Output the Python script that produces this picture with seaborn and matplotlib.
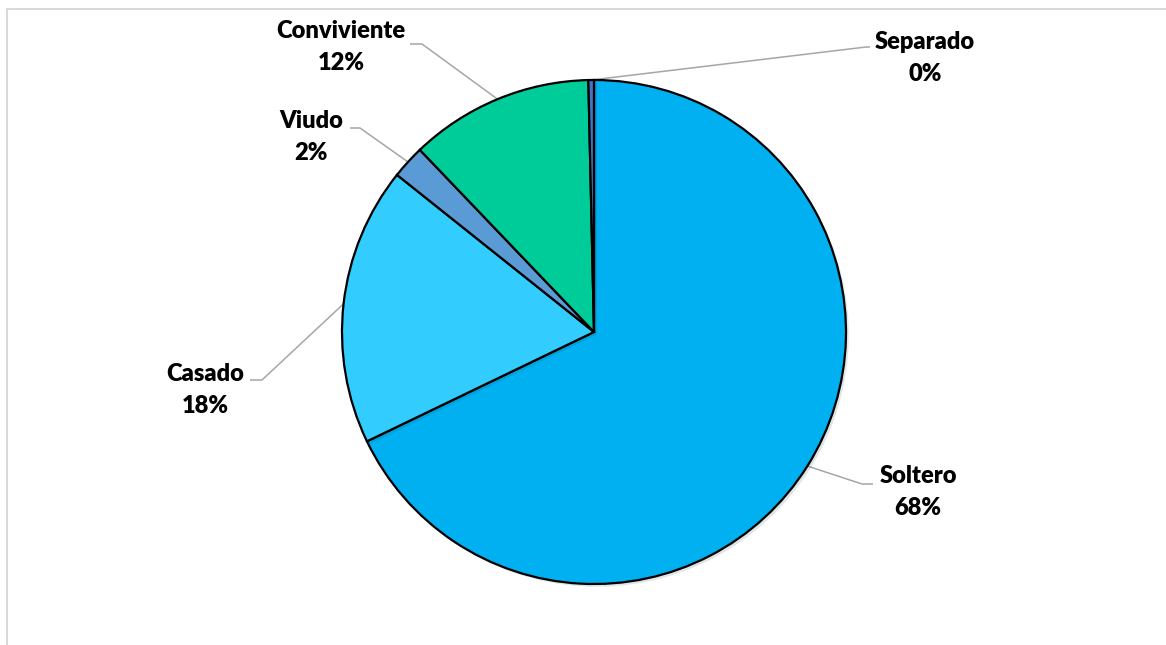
import matplotlib
matplotlib.use("Agg")
import matplotlib.pyplot as plt
from matplotlib.lines import Line2D
import matplotlib.patheffects as pe
import numpy as np
import seaborn as sns

# Marital status counts
categories = ["Soltero", "Casado", "Viudo", "Conviviente", "Separado"]
counts = [190, 50, 6, 33, 1]
colors = ["#00B0F0", "#33CCFF", "#5B9BD5", "#00CC99", "#4472C4"]

sns.set_theme(style="white")
plt.rcParams["font.family"] = ["Lato", "DejaVu Sans"]

W, H = 1166, 645
fig = plt.figure(figsize=(W / 100, H / 100), dpi=100)
fig.patch.set_facecolor("white")

# pie geometry in pixels
cx, cy, R = 594, 332, 252

ax = fig.add_axes([0, 0, 1, 1])


def px(x, y):
    return ((x - cx) / R, (cy - y) / R)


wedges, _ = ax.pie(
    counts,
    colors=sns.color_palette(colors),
    startangle=90,
    counterclock=False,
    radius=1.0,
    wedgeprops=dict(edgecolor="black", linewidth=1.6),
)
ax.set_aspect("auto")
ax.set_xlim(-cx / R, (W - cx) / R)
ax.set_ylim(-(H - cy) / R, cy / R)
ax.axis("off")

for w in wedges:
    w.set_path_effects([pe.SimplePatchShadow(offset=(2, -2), alpha=0.12), pe.Normal()])

total = sum(counts)
pct = [round(c / total * 100) for c in counts]

# label text centre, elbow of the leader line and end of its horizontal stub (pixels)
label_pos = {
    "Soltero": ((918, 492), (862, 484), (873, 484)),
    "Casado": ((205, 390), (262, 380), (250, 380)),
    "Viudo": ((311, 137), (360, 128), (350, 128)),
    "Conviviente": ((341, 47), (422, 44), (410, 44)),
    "Separado": ((925, 58), (866, 47), (870, 47)),
}

for w, name, p in zip(wedges, categories, pct):
    mid = np.deg2rad((w.theta1 + w.theta2) / 2)
    edge = (np.cos(mid), np.sin(mid))
    (tx, ty), elbow, stub = label_pos[name]
    e = px(*elbow)
    s = px(*stub)
    ax.plot([edge[0], e[0], s[0]], [edge[1], e[1], s[1]], color="#A6A6A6",
            linewidth=1.1, zorder=0.5, solid_capstyle="butt")
    ax.text(*px(tx, ty), f"{name}\n{p}%", ha="center", va="center",
            fontsize=17, fontweight="heavy", color="black", linespacing=1.55)

# chart area border
fig.add_artist(Line2D([7, W], [H - 9, H - 9], transform=None, color="#D9D9D9", linewidth=1.5))
fig.add_artist(Line2D([7, 7], [0, H - 9], transform=None, color="#D9D9D9", linewidth=1.5))

fig.savefig("out.png", dpi=100, facecolor="white")
